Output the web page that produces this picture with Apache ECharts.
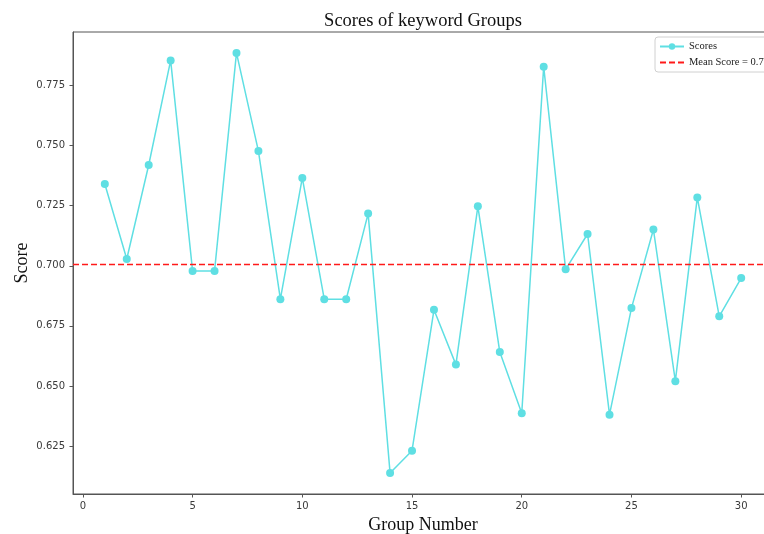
<!DOCTYPE html>
<html>
<head>
<meta charset="utf-8">
<script src="https://cdn.jsdelivr.net/npm/echarts@6/dist/echarts.min.js"></script>
<style>html,body{margin:0;padding:0;background:#fff}#c{width:764px;height:534px}</style>
</head>
<body>
<div id="c"></div>
<script>
// ---- data ----
const groups = [1,2,3,4,5,6,7,8,9,10,11,12,13,14,15,16,17,18,19,20,21,22,23,24,25,26,27,28,29,30];
const scores = [0.7340,0.7028,0.7419,0.7854,0.6978,0.6978,0.7885,0.7477,0.6861,0.7365,
                0.6861,0.6861,0.7217,0.6138,0.6231,0.6817,0.6589,0.7247,0.6641,0.6387,
                0.7828,0.6985,0.7132,0.6381,0.6824,0.7151,0.6520,0.7284,0.6790,0.6949];
const meanScore = 0.7005;
const xTicks = [0,5,10,15,20,25,30];
const yTicks = [0.625,0.650,0.675,0.700,0.725,0.750,0.775];
const titleText = 'Scores of keyword Groups';
const xName = 'Group Number';
const yName = 'Score';
const seriesName = 'Scores';
const meanName = 'Mean Score = 0.7';

// axis extents (matplotlib-like 5% margins)
const xMin = -0.45, xMax = 31.45;
const yMin = 0.6051, yMax = 0.7972;

const chart = echarts.init(document.getElementById('c'), null, {renderer:'canvas'});
const serif = '"Liberation Serif", "DejaVu Serif", serif';
const sans = '"DejaVu Sans", sans-serif';
const cyan = '#5fdfe3';

chart.setOption({
  animation: false,
  backgroundColor: '#ffffff',
  title: {
    text: titleText,
    left: 418, top: 7, textAlign: 'center',
    textStyle: {fontFamily: serif, fontSize: 18.5, fontWeight: 'normal', color: '#111'}
  },
  legend: {
    orient: 'vertical',
    left: 655, top: 37,
    padding: [4, 8, 4, 4],
    itemWidth: 24, itemHeight: 8, itemGap: 5,
    borderColor: '#d0d0d0', borderWidth: 1, borderRadius: 3,
    backgroundColor: '#fff',
    textStyle: {fontFamily: serif, fontSize: 10.5, color: '#222'},
    data: [seriesName, {name: meanName, itemStyle: {opacity: 0}}]
  },
  grid: {left: 73, top: 32, width: 700, height: 462, show: true, borderColor: '#555', borderWidth: 1,
         containLabel: false, outerBoundsMode: 'none'},
  xAxis: {
    type: 'value', min: xMin, max: xMax,
    name: xName, nameLocation: 'middle', nameGap: 22, nameMoveOverlap: false,
    nameTextStyle: {fontFamily: serif, fontSize: 18, color: '#111'},
    axisLine: {show: true, onZero: false, lineStyle: {color: '#555', width: 1}},
    axisTick: {show: true, length: 3.5, lineStyle: {color: '#555'}, customValues: xTicks},
    axisLabel: {margin: 7, fontFamily: sans, fontSize: 10, color: '#3a3a3a', customValues: xTicks},
    splitLine: {show: false}
  },
  yAxis: {
    type: 'value', min: yMin, max: yMax,
    name: yName, nameLocation: 'middle', nameGap: 42, nameRotate: 90, nameMoveOverlap: false,
    nameTextStyle: {fontFamily: serif, fontSize: 18, color: '#111'},
    axisLine: {show: true, onZero: false, lineStyle: {color: '#555', width: 1}},
    axisTick: {show: true, length: 3.5, lineStyle: {color: '#555'}, customValues: yTicks},
    axisLabel: {margin: 8, fontFamily: sans, fontSize: 10, color: '#3a3a3a', customValues: yTicks,
      formatter: v => v.toFixed(3)},
    splitLine: {show: false}
  },
  series: [
    {
      name: seriesName, type: 'line',
      data: groups.map((g, i) => [g, scores[i]]),
      symbol: 'circle', symbolSize: 8, showSymbol: true,
      lineStyle: {color: cyan, width: 1.5},
      itemStyle: {color: cyan},
      z: 2
    },
    {
      name: meanName, type: 'line',
      data: [[xMin, meanScore], [xMax, meanScore]],
      symbol: 'none',
      lineStyle: {color: '#ff1a1a', width: 1.5, type: [6, 3]},
      itemStyle: {color: '#ff1a1a'},
      z: 3
    }
  ]
});
</script>
</body>
</html>
